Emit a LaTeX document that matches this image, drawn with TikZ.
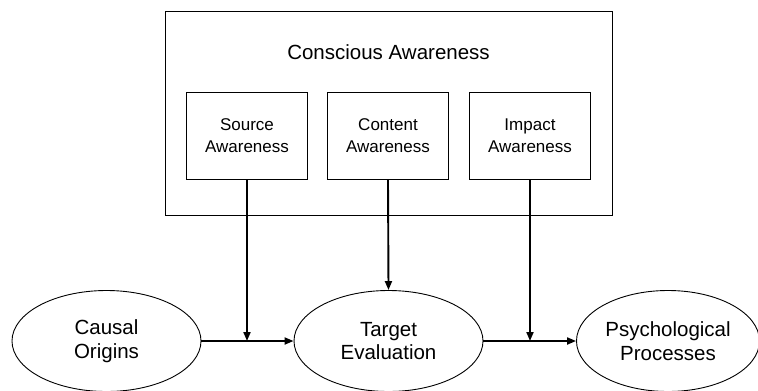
\documentclass[tikz,border=0pt]{standalone}
\usepackage{fontspec}
\setmainfont{Liberation Sans}
\usetikzlibrary{arrows.meta,shapes.geometric}
\begin{document}
\begin{tikzpicture}[x=1pt,y=-1pt,
  awbox/.style={draw,line width=1pt,minimum width=121pt,minimum height=87pt,
    align=center,font=\fontsize{17}{21.5}\selectfont,inner sep=0pt},
  factor/.style={draw,ellipse,line width=0.9pt,minimum width=189pt,minimum height=101pt,
    align=center,font=\fontsize{20.5}{23.5}\selectfont,inner sep=0pt},
  link/.style={line width=1.9pt,-{Triangle[length=9pt,width=7pt]}}]
\useasboundingbox (0,0) rectangle (758,391);
% awareness frame with its three components
\node[draw,line width=1pt,minimum width=447pt,minimum height=204pt,inner sep=0pt] (frame) at (388.5,113) {};
\node[font=\fontsize{20.5}{24}\selectfont] (title) at (388.5,52.5) {Conscious Awareness};
\node[awbox] (src) at (247,135.7) {Source\\Awareness};
\node[awbox] (cnt) at (388,135.7) {Content\\Awareness};
\node[awbox] (imp) at (530,135.7) {Impact\\Awareness};
% causal chain
\node[factor] (cause) at (106.5,341) {Causal\\Origins};
\node[factor] (target) at (388.5,341) {Target\\Evaluation};
\node[factor,minimum width=183pt] (psych) at (668,341) {Psychological\\Processes};
% connectors
\coordinate (j1) at (src.south |- cause.east);
\coordinate (j2) at (imp.south |- target.east);
\draw[link] (cause.east) -- (target.west);
\draw[link] (src.south) -- (j1);
\draw[link] (cnt.south) -- (target.north);
\draw[link] (target.east) -- (psych.west);
\draw[link] (imp.south) -- (j2);
\end{tikzpicture}
\end{document}
